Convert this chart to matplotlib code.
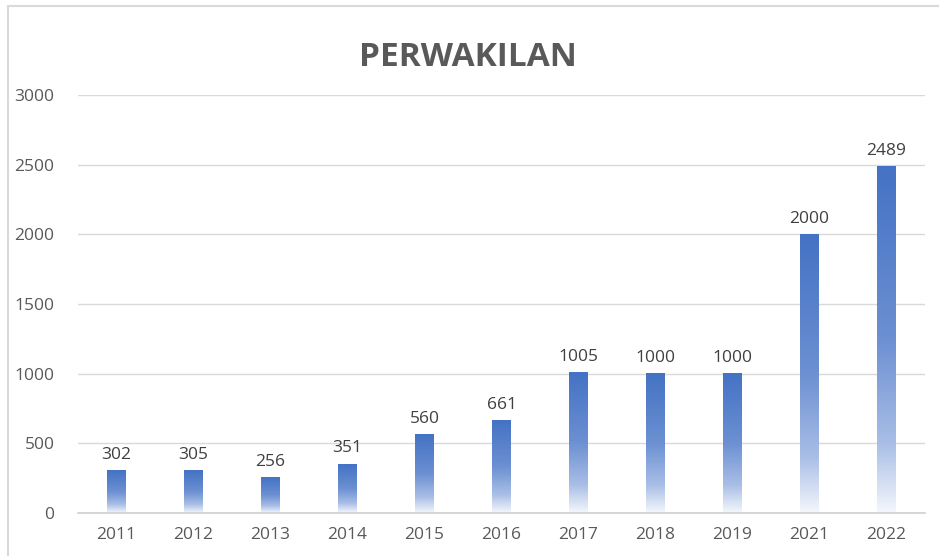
import numpy as np
import matplotlib
matplotlib.use("Agg")
import matplotlib.pyplot as plt
from matplotlib.colors import LinearSegmentedColormap
from matplotlib.patches import Rectangle

# ---- data
years  = ["2011", "2012", "2013", "2014", "2015", "2016", "2017", "2018", "2019", "2021", "2022"]
values = [302, 305, 256, 351, 560, 661, 1005, 1000, 1000, 2000, 2489]
yticks = [0, 500, 1000, 1500, 2000, 2500, 3000]

W, H = 939, 556
fig = plt.figure(figsize=(W / 100, H / 100), dpi=100)

# chart border (cropped at right / bottom in reference)
fig.patches.append(Rectangle((8 / W, -0.1), 1.1, 1 - 6 / H + 0.1, transform=fig.transFigure,
                             fill=False, edgecolor="#d9d9d9", lw=1.5))

ax = fig.add_axes([78 / W, 1 - 513 / H, (925 - 78) / W, (513 - 95) / H])

# gradient per bar: white at bottom -> blue at top
cmap = LinearSegmentedColormap.from_list(
    "grad", [(0.0, "#f4f7fc"), (0.2, "#a9bee6"), (0.5, "#6c90d2"), (1.0, "#4472c4")])
grad = np.linspace(0, 1, 256).reshape(-1, 1)

x = np.arange(len(years))
bars = ax.bar(x, values, width=0.24, color="none", edgecolor="none")
for b, v in zip(bars, values):
    x0 = b.get_x()
    ax.imshow(grad, cmap=cmap, origin="lower", aspect="auto",
              extent=[x0, x0 + b.get_width(), 0, b.get_height()], zorder=2)
    ax.text(b.get_x() + b.get_width() / 2, v + 55, str(v), ha="center", va="bottom",
            fontsize=12.5, color="#404040", family="Open Sans")

ax.set_xlim(-0.5, len(years) - 0.5)
ax.set_ylim(0, 3000)
ax.set_yticks(yticks)
ax.set_xticks(x)
ax.set_xticklabels(years)
ax.grid(axis="y", color="#d9d9d9", lw=1, zorder=0)
ax.set_axisbelow(True)
for s in ["top", "right", "left"]:
    ax.spines[s].set_visible(False)
ax.spines["bottom"].set_color("#cfcfcf")
ax.spines["bottom"].set_linewidth(1.2)
ax.tick_params(length=0, labelsize=12.5, labelcolor="#595959", pad=10)
ax.tick_params(axis="y", pad=17)
for lab in ax.get_xticklabels() + ax.get_yticklabels():
    lab.set_family("Open Sans")

fig.text(468 / W, 1 - 57 / H, "PERWAKILAN", ha="center", va="center",
         fontsize=24, fontweight="bold", color="#595959", family="Open Sans")

fig.savefig("out.png", dpi=100)
